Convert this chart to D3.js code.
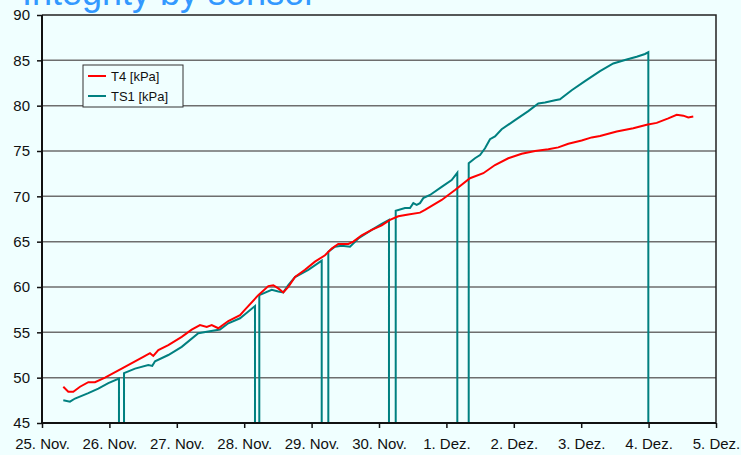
<!DOCTYPE html>
<html>
<head>
<meta charset="utf-8">
<script src="https://cdn.jsdelivr.net/npm/d3@7"></script>
<style>
  body { margin: 0; background: #f0ffff; }
  svg { display: block; font-family: "Liberation Sans", Arial, sans-serif; }
</style>
</head>
<body>
<div id="chart"></div>
<script>
// days counted from 25. Nov.
const dayTicks = [0, 1, 2, 3, 4, 5, 6, 7, 8, 9, 10];
const dayLabels = ["25. Nov.", "26. Nov.", "27. Nov.", "28. Nov.", "29. Nov.", "30. Nov.",
                   "1. Dez.", "2. Dez.", "3. Dez.", "4. Dez.", "5. Dez."];
const yTicks = [45, 50, 55, 60, 65, 70, 75, 80, 85, 90];
const seriesNames = ["T4 [kPa]", "TS1 [kPa]"];

const t4Days = [0.316, 0.390, 0.464, 0.564, 0.687, 0.786, 0.935, 1.182, 1.380, 1.503, 1.602, 1.651,
  1.726, 1.874, 2.073, 2.221, 2.344, 2.444, 2.518, 2.616, 2.764, 2.938, 3.012, 3.209, 3.358, 3.432,
  3.506, 3.580, 3.654, 3.754, 3.902, 4.050, 4.199, 4.298, 4.396, 4.545, 4.619, 4.743, 4.892, 5.040,
  5.163, 5.286, 5.435, 5.608, 5.682, 5.930, 6.128, 6.350, 6.548, 6.721, 6.918, 7.117, 7.315, 7.512,
  7.660, 7.809, 8.007, 8.156, 8.279, 8.527, 8.773, 8.972, 9.120, 9.292, 9.417, 9.515, 9.589, 9.663];
const t4Values = [49.0, 48.45, 48.45, 49.0, 49.5, 49.5, 50.0, 51.0, 51.8, 52.3, 52.7, 52.4,
  53.05, 53.6, 54.5, 55.3, 55.8, 55.6, 55.8, 55.45, 56.25, 56.9, 57.5, 59.1, 60.1, 60.2,
  59.85, 59.4, 60.0, 61.1, 61.9, 62.8, 63.5, 64.25, 64.75, 64.75, 65.0, 65.7, 66.3, 66.8,
  67.4, 67.8, 68.0, 68.2, 68.5, 69.6, 70.7, 72.0, 72.55, 73.45, 74.2, 74.7, 75.0, 75.2,
  75.4, 75.8, 76.15, 76.5, 76.65, 77.15, 77.5, 77.9, 78.1, 78.6, 79.0, 78.9, 78.7, 78.8];

// sensor drop-outs read as 0 kPa (clipped at the axis)
const ts1Days = [0.316, 0.415, 0.490, 0.687, 0.835, 0.984, 1.142, 1.142, 1.217, 1.217, 1.380, 1.577,
  1.636, 1.677, 1.874, 2.073, 2.319, 2.467, 2.641, 2.764, 2.938, 3.012, 3.160, 3.160, 3.224, 3.224,
  3.408, 3.506, 3.580, 3.654, 3.754, 3.951, 4.150, 4.150, 4.248, 4.248, 4.347, 4.447, 4.570, 4.693,
  4.892, 5.040, 5.148, 5.148, 5.248, 5.248, 5.386, 5.460, 5.509, 5.559, 5.608, 5.657, 5.757, 5.930,
  6.078, 6.162, 6.162, 6.331, 6.331, 6.424, 6.499, 6.573, 6.647, 6.721, 6.820, 7.018, 7.215, 7.364,
  7.463, 7.611, 7.685, 7.859, 8.056, 8.279, 8.476, 8.675, 8.823, 8.947, 8.996, 8.996];
const ts1Values = [47.5, 47.35, 47.7, 48.3, 48.8, 49.4, 49.9, 0, 0, 50.5, 51.0, 51.4,
  51.3, 51.8, 52.5, 53.4, 54.9, 55.1, 55.3, 56.0, 56.55, 57.0, 57.9, 0, 0, 59.1,
  59.7, 59.5, 59.4, 60.2, 61.1, 61.9, 62.9, 0, 0, 63.9, 64.45, 64.55, 64.45, 65.35,
  66.3, 66.95, 67.4, 0, 0, 68.4, 68.7, 68.7, 69.25, 69.05, 69.25, 69.8, 70.15, 71.05,
  71.8, 72.6, 0, 0, 73.65, 74.2, 74.55, 75.3, 76.3, 76.6, 77.4, 78.4, 79.4, 80.25,
  80.35, 80.6, 80.7, 81.7, 82.7, 83.8, 84.65, 85.1, 85.4, 85.7, 85.9, 0];

const width = 741, height = 455;
const margin = { top: 15, right: 25, bottom: 32, left: 42 };
const innerW = width - margin.left - margin.right;
const innerH = height - margin.top - margin.bottom;

const svg = d3.select("#chart").append("svg")
  .attr("width", width)
  .attr("height", height);

svg.append("rect").attr("width", width).attr("height", height).attr("fill", "#f0ffff");

// title, mostly cut off by the top edge
svg.append("text")
  .attr("x", 22).attr("y", 5)
  .attr("font-size", 36)
  .attr("fill", "#3399ff")
  .text("Integrity by sensor");

const x = d3.scaleLinear().domain([0, 10]).range([0, innerW]);
const y = d3.scaleLinear().domain([45, 90]).range([innerH, 0]);

const g = svg.append("g").attr("transform", `translate(${margin.left},${margin.top})`);

svg.append("clipPath").attr("id", "plot-clip")
  .append("rect").attr("x", 0).attr("y", 0).attr("width", innerW).attr("height", innerH);

// horizontal grid lines
g.selectAll(".grid")
  .data(yTicks.slice(1, -1))
  .enter().append("line")
  .attr("x1", 0).attr("x2", innerW)
  .attr("y1", d => y(d)).attr("y2", d => y(d))
  .attr("stroke", "#6e6e6e")
  .attr("stroke-width", 1.5);

// top and right border
g.append("path")
  .attr("d", `M0,${y(90)}H${innerW}V${innerH}`)
  .attr("fill", "none")
  .attr("stroke", "#222")
  .attr("stroke-width", 1.5);

const line = d3.line().x(d => x(d[0])).y(d => y(d[1]));

const plot = g.append("g").attr("clip-path", "url(#plot-clip)");
plot.append("path")
  .datum(d3.zip(ts1Days, ts1Values))
  .attr("d", line)
  .attr("fill", "none")
  .attr("stroke", "#008080")
  .attr("stroke-width", 2);
plot.append("path")
  .datum(d3.zip(t4Days, t4Values))
  .attr("d", line)
  .attr("fill", "none")
  .attr("stroke", "#ff0000")
  .attr("stroke-width", 2);

// axes
const yAxis = g.append("g")
  .call(d3.axisLeft(y).tickValues(yTicks).tickSize(5).tickPadding(7).tickFormat(d3.format("d")));
const xAxis = g.append("g")
  .attr("transform", `translate(0,${innerH})`)
  .call(d3.axisBottom(x).tickValues(dayTicks).tickSize(5).tickPadding(10)
    .tickFormat((d, i) => dayLabels[i]));

[yAxis, xAxis].forEach(ax => {
  ax.select(".domain").attr("stroke", "#111").attr("stroke-width", 2);
  ax.selectAll(".tick line").attr("stroke", "#111").attr("stroke-width", 1.5);
  ax.selectAll("text").attr("fill", "#111").attr("font-size", 15)
    .attr("font-family", "'Liberation Sans', Arial, sans-serif");
});
yAxis.select(".domain").attr("d", `M0,0V${innerH}`);
xAxis.select(".domain").attr("d", `M0,0H${innerW}`);

// legend
const legend = svg.append("g").attr("transform", "translate(83,65)");
legend.append("rect")
  .attr("width", 100).attr("height", 42)
  .attr("fill", "#f0ffff")
  .attr("stroke", "#333").attr("stroke-width", 1);
const legendColors = ["#ff0000", "#008080"];
seriesNames.forEach((name, i) => {
  const row = legend.append("g").attr("transform", `translate(0,${11 + i * 20})`);
  row.append("line").attr("x1", 5).attr("x2", 23)
    .attr("stroke", legendColors[i]).attr("stroke-width", 2);
  row.append("text").attr("x", 28).attr("y", 5)
    .attr("font-size", 13).attr("fill", "#111")
    .text(name);
});
</script>
</body>
</html>
